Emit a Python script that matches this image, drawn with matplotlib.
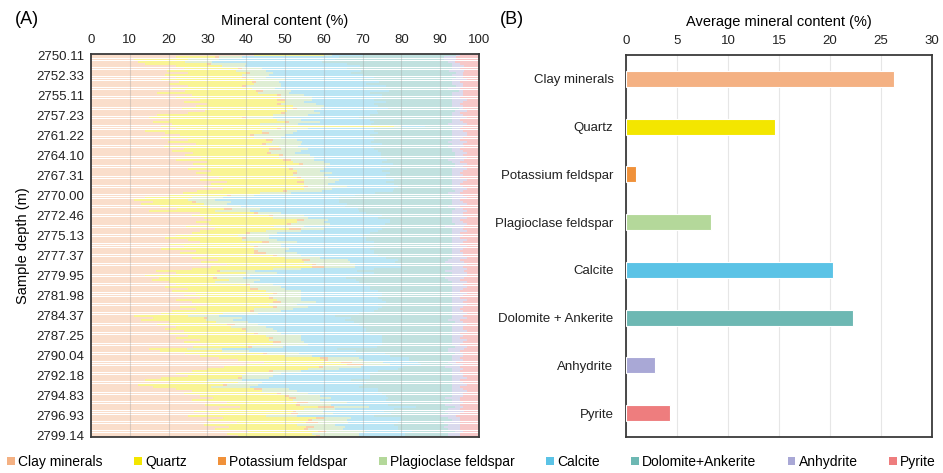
import matplotlib
matplotlib.use("Agg")
import matplotlib.pyplot as plt
from matplotlib.patches import Patch
import numpy as np

plt.rcParams['font.family'] = ['Liberation Sans', 'DejaVu Sans']

minerals = ["Clay minerals", "Quartz", "Potassium feldspar", "Plagioclase feldspar",
            "Calcite", "Dolomite+Ankerite", "Anhydrite", "Pyrite"]
bar_labels = ["Clay minerals", "Quartz", "Potassium feldspar", "Plagioclase feldspar",
              "Calcite", "Dolomite + Ankerite", "Anhydrite", "Pyrite"]
colors = ["#F4B183", "#F3E600", "#F0913A", "#B4D89A",
          "#5BC3E6", "#6DB8B3", "#A9A8D6", "#EE7D7E"]

depth_labels = ["2750.11", "2752.33", "2755.11", "2757.23", "2761.22", "2764.10",
                "2767.31", "2770.00", "2772.46", "2775.13", "2777.37", "2779.95",
                "2781.98", "2784.37", "2787.25", "2790.04", "2792.18", "2794.83",
                "2796.93", "2799.14"]

# Per-sample mineral content (%), top to bottom
clay = [42, 22, 11, 12, 14, 22, 24, 20, 25,
        19, 22, 18, 23, 20, 25, 21, 24, 17,
        26, 22, 28, 24, 30, 27, 23, 29, 25,
        17, 15, 20, 16, 21, 18, 22, 14, 19,
        23, 18, 25, 20, 27, 19, 24, 21, 26,
        24, 28, 22, 30, 26, 29, 25, 31, 27,
        30, 33, 28, 35, 31, 29, 34, 27, 24,
        20, 14, 11, 16, 13, 18, 22, 15, 28,
        26, 29, 31, 27, 30, 25, 32, 28, 26,
        22, 19, 25, 28, 20, 24, 18, 27, 23,
        30, 26, 33, 29, 35, 31, 26, 17, 22,
        14, 18, 16, 20, 22, 19, 25, 21, 27,
        24, 28, 22, 26, 30, 23, 27, 21, 18,
        11, 16, 13, 20, 17, 22, 19, 24, 20,
        25, 22, 28, 24, 30, 26, 15, 18, 24,
        28, 33, 38, 45, 40, 35, 30, 26, 22,
        25, 18, 14, 20, 12, 16, 22, 26, 24,
        28, 32, 26, 35, 30, 38, 33, 27, 31,
        25, 34, 30, 38, 29, 36, 32, 40, 35, 38]
quartz = [18, 10, 14, 12, 16, 12, 14, 18, 15,
          20, 17, 24, 19, 22, 14, 21, 18, 26,
          22, 27, 20, 26, 18, 25, 28, 21, 24,
          30, 24, 28, 34, 23, 60, 26, 30, 25,
          18, 24, 20, 27, 17, 30, 22, 25, 19,
          24, 20, 28, 22, 27, 21, 26, 22, 25,
          22, 20, 27, 18, 24, 26, 21, 22, 20,
          15, 12, 14, 10, 16, 13, 12, 17, 14,
          20, 18, 22, 26, 20, 23, 19, 17, 14,
          16, 20, 14, 16, 21, 18, 24, 15, 19,
          17, 24, 22, 27, 22, 26, 21, 16, 18,
          18, 14, 20, 12, 18, 22, 16, 24, 20,
          22, 18, 26, 21, 16, 24, 15, 20, 16,
          14, 13, 17, 12, 18, 14, 20, 16, 22,
          20, 24, 18, 23, 17, 14, 10, 16, 20,
          22, 26, 22, 20, 26, 25, 26, 20, 18,
          14, 20, 16, 18, 22, 15, 20, 18, 24,
          22, 20, 26, 18, 24, 20, 22, 26, 21,
          20, 24, 26, 18, 24, 20, 23, 18, 22, 20]
k_feldspar = [0, 1, 0, 0, 1, 0, 1, 0, 1,
              0, 1, 0, 1, 0, 1, 0, 2, 0,
              1, 0, 2, 0, 1, 0, 1, 0, 1,
              0, 1, 0, 1, 0, 0, 1, 0, 2,
              1, 0, 2, 0, 1, 0, 3, 0, 1,
              1, 0, 2, 0, 1, 0, 1, 0, 1,
              0, 1, 0, 2, 0, 1, 0, 1, 0,
              1, 0, 0, 1, 0, 0, 2, 0, 1,
              1, 0, 2, 0, 1, 0, 3, 0, 1,
              0, 1, 0, 2, 0, 1, 0, 1, 3,
              1, 0, 2, 0, 1, 3, 0, 1, 0,
              0, 1, 0, 0, 1, 0, 2, 0, 1,
              0, 1, 0, 2, 0, 1, 0, 1, 0,
              0, 1, 0, 0, 2, 0, 1, 0, 1,
              0, 1, 0, 2, 0, 1, 0, 0, 1,
              0, 2, 1, 3, 4, 1, 0, 1, 0,
              0, 1, 0, 0, 1, 0, 2, 0, 1,
              1, 2, 0, 3, 1, 4, 0, 1, 2,
              0, 2, 1, 3, 0, 2, 1, 2, 0, 1]
plagioclase = [2, 6, 8, 7, 9, 6, 5, 8, 6,
               7, 5, 8, 6, 7, 9, 6, 7, 8,
               6, 8, 7, 5, 9, 8, 6, 7, 9,
               9, 7, 6, 8, 10, 2, 7, 9, 6,
               8, 7, 6, 8, 9, 5, 7, 8, 6,
               7, 9, 6, 8, 7, 10, 8, 6, 9,
               8, 7, 9, 8, 6, 10, 7, 9, 8,
               6, 8, 7, 9, 6, 8, 7, 9, 6,
               8, 9, 6, 7, 10, 8, 6, 9, 7,
               8, 6, 9, 7, 8, 6, 9, 7, 8,
               6, 9, 10, 12, 10, 8, 7, 9, 8,
               9, 7, 8, 10, 6, 8, 7, 9, 6,
               8, 7, 6, 9, 7, 8, 10, 7, 9,
               8, 9, 7, 8, 6, 9, 7, 8, 6,
               9, 7, 8, 6, 9, 8, 9, 7, 8,
               7, 8, 9, 8, 7, 10, 8, 7, 9,
               8, 7, 9, 6, 8, 10, 7, 9, 7,
               8, 9, 7, 10, 8, 9, 8, 7, 9,
               8, 7, 9, 8, 10, 8, 9, 10, 12, 10]
calcite = [8, 25, 30, 28, 26, 30, 22, 25, 20,
           24, 28, 20, 26, 22, 27, 23, 25, 21,
           20, 18, 16, 21, 15, 14, 17, 16, 15,
           16, 22, 18, 14, 19, 6, 17, 20, 22,
           22, 24, 20, 18, 21, 19, 17, 20, 22,
           18, 17, 19, 15, 16, 14, 17, 16, 15,
           16, 15, 14, 13, 17, 13, 16, 18, 22,
           26, 30, 32, 28, 31, 27, 25, 28, 22,
           20, 18, 16, 17, 14, 20, 15, 20, 24,
           24, 25, 23, 20, 22, 24, 21, 23, 20,
           20, 17, 13, 12, 12, 12, 19, 27, 25,
           29, 27, 25, 27, 24, 23, 22, 20, 21,
           21, 20, 21, 18, 21, 19, 22, 24, 26,
           30, 28, 29, 27, 26, 25, 24, 23, 23,
           21, 21, 21, 20, 19, 24, 30, 28, 22,
           20, 13, 12, 9, 8, 11, 15, 20, 23,
           25, 26, 28, 27, 27, 28, 23, 21, 19,
           17, 15, 17, 14, 15, 12, 15, 16, 15,
           20, 13, 14, 13, 15, 14, 14, 12, 12, 12]
dolomite = [24, 27, 28, 32, 27, 24, 27, 23, 27,
            23, 21, 23, 19, 22, 18, 22, 18, 21,
            18, 18, 20, 17, 20, 19, 18, 20, 19,
            21, 24, 21, 20, 20, 7, 20, 20, 19,
            21, 20, 20, 20, 18, 20, 20, 19, 19,
            19, 19, 16, 18, 16, 19, 16, 18, 16,
            17, 17, 15, 17, 15, 14, 15, 16, 19,
            25, 29, 29, 29, 27, 27, 25, 24, 22,
            18, 19, 16, 16, 18, 17, 18, 19, 21,
            23, 22, 22, 20, 22, 20, 21, 20, 20,
            19, 17, 13, 13, 13, 13, 20, 23, 20,
            23, 26, 24, 24, 22, 21, 21, 19, 18,
            18, 19, 18, 17, 19, 18, 19, 20, 24,
            30, 26, 27, 26, 24, 23, 22, 22, 21,
            18, 18, 18, 18, 18, 20, 29, 24, 18,
            16, 11, 11, 8, 8, 11, 14, 19, 21,
            21, 21, 26, 22, 23, 24, 19, 19, 18,
            17, 15, 17, 13, 15, 10, 14, 16, 15,
            17, 12, 13, 12, 14, 12, 13, 11, 11, 11]
anhydrite = [1, 3, 3, 2, 2, 3, 2, 4, 2,
             3, 2, 4, 2, 3, 2, 3, 1, 3,
             3, 2, 4, 3, 2, 3, 1, 3, 2,
             3, 4, 2, 3, 5, 3, 2, 3, 4,
             4, 3, 2, 5, 3, 4, 2, 3, 3,
             2, 3, 4, 2, 3, 2, 4, 3, 2,
             3, 2, 4, 3, 2, 3, 4, 2, 3,
             3, 4, 2, 3, 4, 3, 2, 4, 3,
             3, 4, 2, 3, 3, 5, 3, 4, 2,
             3, 2, 4, 3, 2, 4, 3, 2, 3,
             3, 4, 3, 5, 4, 3, 4, 5, 4,
             4, 5, 3, 4, 3, 4, 3, 2, 4,
             3, 2, 4, 3, 4, 3, 2, 3, 4,
             3, 4, 3, 2, 4, 3, 3, 4, 2,
             3, 2, 4, 3, 2, 3, 4, 3, 2,
             3, 2, 3, 2, 3, 4, 3, 2, 3,
             3, 4, 2, 3, 4, 2, 3, 4, 3,
             3, 4, 2, 3, 4, 2, 3, 5, 3,
             4, 3, 2, 4, 3, 4, 3, 2, 3, 3]
pyrite = [5, 6, 6, 6, 5, 4, 5, 4, 4,
          4, 4, 3, 5, 4, 4, 5, 4, 4,
          4, 5, 3, 4, 5, 4, 4, 3, 5,
          4, 3, 5, 4, 3, 4, 5, 4, 3,
          3, 4, 5, 3, 4, 4, 5, 4, 3,
          4, 3, 4, 5, 3, 4, 3, 4, 5,
          4, 5, 3, 4, 5, 4, 3, 4, 5,
          4, 3, 5, 4, 3, 5, 4, 3, 4,
          4, 3, 5, 4, 3, 4, 4, 3, 5,
          4, 5, 3, 4, 5, 3, 4, 5, 4,
          4, 3, 5, 4, 3, 4, 3, 4, 3,
          3, 4, 5, 3, 4, 3, 4, 5, 3,
          4, 5, 3, 4, 3, 4, 5, 4, 3,
          4, 3, 5, 4, 3, 4, 4, 3, 5,
          4, 5, 3, 4, 5, 3, 4, 5, 4,
          4, 5, 4, 6, 4, 5, 4, 5, 4,
          4, 3, 5, 4, 3, 5, 4, 3, 4,
          4, 5, 5, 4, 5, 4, 5, 4, 5,
          6, 5, 5, 5, 5, 5, 5, 4, 5, 5]

# Mean content of each mineral (%)
average_content = [26.3, 14.6, 1.0, 8.3, 20.3, 22.3, 2.8, 4.3]

series = [clay, quartz, k_feldspar, plagioclase, calcite, dolomite, anhydrite, pyrite]

fig = plt.figure(figsize=(9.43, 4.73), dpi=100)
W, H = 943, 473
axA = fig.add_axes([91 / W, 1 - 437 / H, (479 - 91) / W, (437 - 54) / H])
axB = fig.add_axes([626 / W, 1 - 437 / H, (932 - 626) / W, (437 - 55) / H])

frame_color = "#3a3a3a"

# ---- (A) stacked composition per sample ----
data = np.array(series, dtype=float)
data = data / data.sum(axis=0) * 100.0
n = data.shape[1]
rows = np.arange(n)
left = np.zeros(n)
for vals, col in zip(data, colors):
    axA.barh(rows, vals, left=left, height=0.78, color=col, alpha=0.42,
             linewidth=0, zorder=2)
    left += vals
axA.set_xlim(0, 100)
axA.set_ylim(n - 0.5, -0.5)
axA.set_xticks(np.arange(0, 101, 10))
tick_rows = np.arange(0, n, 9)
axA.set_yticks(tick_rows)
axA.set_yticklabels(depth_labels)
axA.xaxis.tick_top()
axA.xaxis.set_label_position("top")
axA.tick_params(axis="x", length=0, pad=6, labelsize=9.5, colors="#222222")
axA.tick_params(axis="y", length=0, pad=5, labelsize=9.5, colors="#222222")
axA.set_xlabel("Mineral content (%)", fontsize=10.5, labelpad=6)
axA.set_ylabel("Sample depth (m)", fontsize=10.5, labelpad=4)
for x in range(10, 100, 10):
    axA.axvline(x, color="#9a9a9a", lw=0.8, alpha=0.35, zorder=3)
for s in axA.spines.values():
    s.set_color(frame_color)
    s.set_linewidth(1.3)
    s.set_zorder(5)

# ---- (B) average content ----
pos = np.arange(len(average_content))
axB.barh(pos, average_content, height=0.34, color=colors, edgecolor="white",
         linewidth=0.8, zorder=3)
axB.set_xlim(0, 30)
axB.set_ylim(len(average_content) - 0.5, -0.5)
axB.set_xticks(np.arange(0, 31, 5))
axB.set_yticks(pos)
axB.set_yticklabels(bar_labels)
axB.xaxis.tick_top()
axB.xaxis.set_label_position("top")
axB.tick_params(axis="x", length=0, pad=6, labelsize=9.5, colors="#222222")
axB.tick_params(axis="y", length=0, pad=9, labelsize=9.5, colors="#222222")
axB.set_xlabel("Average mineral content (%)", fontsize=10.5, labelpad=6)
axB.grid(axis="x", color="#e6e6e6", lw=0.8, zorder=0)
axB.set_axisbelow(True)
for s in axB.spines.values():
    s.set_color(frame_color)
    s.set_linewidth(1.3)

fig.text(15 / W, 1 - 20 / H, "(A)", fontsize=13, va="center", ha="left")
fig.text(500 / W, 1 - 20 / H, "(B)", fontsize=13, va="center", ha="left")

handles = [Patch(facecolor=c, edgecolor="none") for c in colors]
fig.legend(handles, minerals, loc="center", bbox_to_anchor=(0.5, 1 - 462 / H),
           ncol=8, frameon=False, handlelength=0.55, handleheight=0.55,
           handletextpad=0.25, columnspacing=2.25, fontsize=10,
           borderaxespad=0)

fig.savefig("out.png", dpi=100, facecolor="white")
